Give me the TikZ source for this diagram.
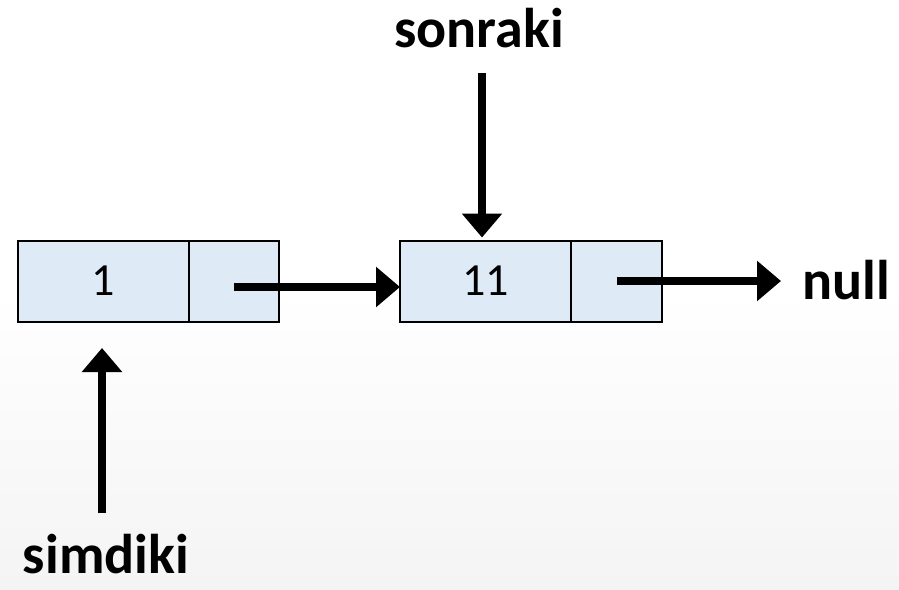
\documentclass[tikz,border=0pt]{standalone}
\usepackage{fontspec}
\setmainfont{Carlito}
\usetikzlibrary{arrows.meta}
\definecolor{cellfill}{RGB}{222,235,247}
\definecolor{bgbot}{RGB}{244,244,244}
\tikzset{
  cell/.style={draw=black, line width=2pt, fill=cellfill, inner sep=0pt, outer sep=0pt,
               minimum height=81pt, font=\fontsize{46}{50}\selectfont},
  ptr/.style={line width=8pt, -{Triangle[length=24pt, width=39pt]}},
  lbl/.style={inner sep=0pt, font=\fontsize{56}{60}\selectfont\bfseries}
}
\begin{document}
\begin{tikzpicture}[x=1pt,y=-1pt]
\shade[top color=white, bottom color=bgbot, middle color=white!98!bgbot] (0,0) rectangle (899,589);
\useasboundingbox (0,0) rectangle (899,589);
\node[cell, minimum width=171pt] (d1) at (103.5,281) {1};
\node[cell, minimum width=90pt] (p1) at (234,281) {};
\node[cell, minimum width=171pt] (d2) at (485.5,281) {11};
\node[cell, minimum width=91pt] (p2) at (616.5,281) {};
\node[lbl, anchor=base] (son) at (479,47) {sonraki};
\node[lbl, anchor=base] (sim) at (106,573) {simdiki};
\node[lbl, anchor=base west] (nul) at (802,299) {null};
\coordinate (sa) at (482,73);
\coordinate (sb) at (102,513);
\coordinate (sbt) at (102,348);
\draw[ptr] ([yshift=-6pt]p1.center) -- ([yshift=-6pt]p1.center -| d2.west);
\draw[ptr] (p2.center) -- ([xshift=-21pt]p2.center -| nul.west);
\draw[ptr] (sa) -- ([yshift=3pt]sa |- d2.north);
\draw[ptr] (sb) -- (sbt);
\end{tikzpicture}
\end{document}
